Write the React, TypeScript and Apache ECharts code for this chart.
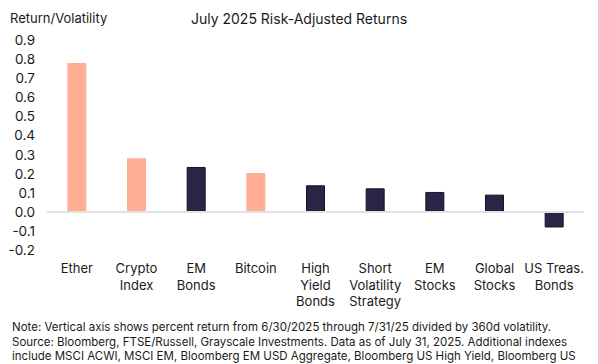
import React, { useEffect, useRef } from "react";
import * as echarts from "echarts";

const categories = [
  "Ether",
  "Crypto\nIndex",
  "EM\nBonds",
  "Bitcoin",
  "High\nYield\nBonds",
  "Short\nVolatility\nStrategy",
  "EM\nStocks",
  "Global\nStocks",
  "US Treas.\nBonds",
];
const values = [0.78, 0.28, 0.235, 0.203, 0.139, 0.123, 0.104, 0.09, -0.082];
const isCrypto = [true, true, false, true, false, false, false, false, false];

const title = "July 2025 Risk-Adjusted Returns";
const yName = "Return/Volatility";
const noteLines = [
  "Note: Vertical axis shows percent return from 6/30/2025 through 7/31/25 divided by 360d volatility.",
  "Source: Bloomberg, FTSE/Russell, Grayscale Investments. Data as of July 31, 2025. Additional indexes",
  "include MSCI ACWI, MSCI EM, Bloomberg EM USD Aggregate, Bloomberg US High Yield, Bloomberg US",
];

const FONT = "Inter, 'Noto Sans', sans-serif";
const SALMON = "#FFAE94";
const NAVY = "#2B2446";

export default function App() {
  const ref = useRef<HTMLDivElement>(null);
  useEffect(() => {
    if (!ref.current) return;
    const chart = echarts.init(ref.current, undefined, { renderer: "svg" });
    chart.setOption({
      animation: false,
      backgroundColor: "#ffffff",
      textStyle: { fontFamily: FONT },
      grid: { left: 47, right: 14, top: 40, bottom: 114 },
      graphic: [
        {
          type: "text",
          left: "center",
          top: 11,
          style: { text: title, fontSize: 14, fontFamily: FONT, fill: "#1a1a1a" },
        },
        {
          type: "text",
          left: 10,
          top: 11,
          style: { text: yName, fontSize: 13, fontFamily: FONT, fill: "#1a1a1a" },
        },
        ...noteLines.map((t, i) => ({
          type: "text",
          left: 12,
          top: 321 + i * 14.5,
          style: { text: t, fontSize: 11.5, fontFamily: FONT, fill: "#1a1a1a" },
        })),
      ],
      xAxis: {
        type: "category",
        data: categories,
        axisLine: { show: false, onZero: false },
        axisTick: { show: false },
        axisLabel: {
          interval: 0,
          margin: 10,
          fontSize: 13,
          lineHeight: 16.5,
          color: "#1a1a1a",
          fontFamily: FONT,
        },
      },
      yAxis: {
        type: "value",
        min: -0.2,
        max: 0.9,
        interval: 0.1,
        splitLine: { show: false },
        axisLine: { show: false },
        axisTick: { show: false },
        axisLabel: {
          margin: 12,
          fontSize: 13.5,
          color: "#1a1a1a",
          fontFamily: FONT,
          formatter: (v: number) => v.toFixed(1),
        },
      },
      series: [
        {
          type: "bar",
          barWidth: 19,
          data: values.map((v, i) => ({
            value: v,
            itemStyle: isCrypto[i]
              ? { color: SALMON }
              : { color: NAVY, borderColor: "#15112a", borderWidth: 1 },
          })),
          markLine: {
            silent: true,
            symbol: "none",
            label: { show: false },
            lineStyle: { color: "#e2e2e2", width: 2, type: "solid" },
            data: [{ yAxis: 0 }],
          },
        },
      ],
    });
    return () => chart.dispose();
  }, []);
  return <div ref={ref} style={{ width: 598, height: 364, position: "absolute", left: 0, top: 0 }} />;
}
